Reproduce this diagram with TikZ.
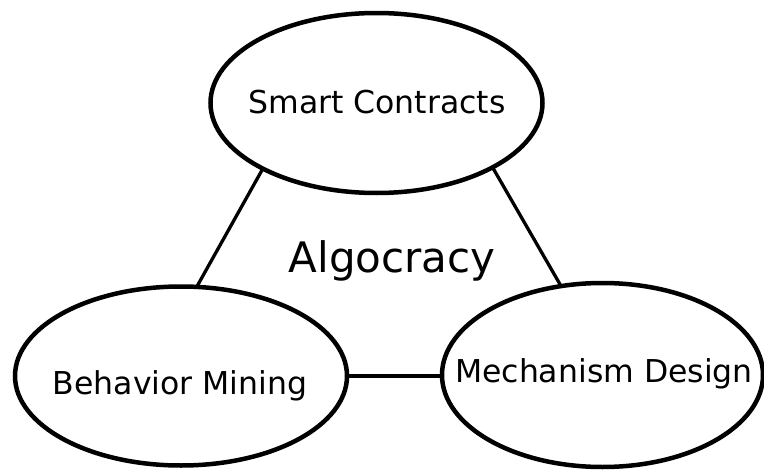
\documentclass[tikz,border=0pt]{standalone}
\usepackage{fontspec}
\setmainfont{DejaVu Sans}
\usetikzlibrary{shapes.geometric}
\begin{document}
\begin{tikzpicture}[x=1pt,y=-1pt,
  topic/.style={ellipse,draw=black,line width=4.5pt,inner sep=0pt,outer sep=0pt},
  topictext/.style={inner sep=0pt,font=\fontsize{31.5}{36}\selectfont},
  link/.style={draw=black,line width=3.3pt}]
\useasboundingbox (0,0) rectangle (764,471);
\node[topic,minimum width=332pt,minimum height=180pt] (sc) at (376.5,103) {};
\node[topic,minimum width=332pt,minimum height=179pt] (bm) at (181,376) {};
\node[topic,minimum width=321pt,minimum height=184pt] (md) at (602.5,375) {};
\node[topictext] (sct) at (377,102) {Smart Contracts};
\node[topictext] (bmt) at (180,386) {Behavior Mining};
\node[topictext] (mdt) at (604,374) {Mechanism Design};
\node[anchor=base,font=\fontsize{42}{48}\selectfont,inner sep=0pt] (al) at (392,272) {Algocracy};
\draw[link] (sc.210.7) -- (bm.80.4);
\draw[link] (sc.331) -- (md.115.8);
\draw[link] (bm.east) -- (bm.east -| md.west);
\end{tikzpicture}
\end{document}
